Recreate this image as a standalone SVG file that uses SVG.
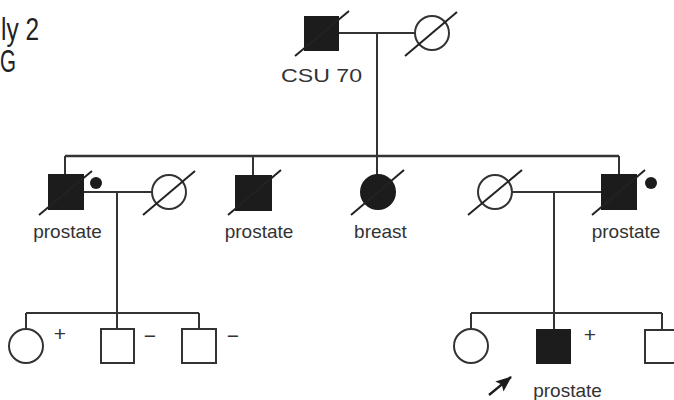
<svg xmlns="http://www.w3.org/2000/svg" width="674" height="400" viewBox="0 0 674 400">
<defs>
<style>
.ln{stroke:#333;stroke-width:2;fill:none}
.sib{stroke:#333;stroke-width:2.5;fill:none}
.sym{stroke:#333;stroke-width:2;fill:#fff}
.aff{stroke:#1c1c1c;stroke-width:2;fill:#1c1c1c}
.dec{stroke:#222;stroke-width:2}
.lbl{font-family:"Liberation Sans",Arial,sans-serif;font-size:19px;fill:#333}
.mk{font-family:"Liberation Sans",Arial,sans-serif;font-size:21px;fill:#333;text-anchor:middle}
.ttl{font-family:"Liberation Sans",Arial,sans-serif;font-size:31px;fill:#222}
</style>
<marker id="ah" viewBox="0 0 16 13" refX="15" refY="6.5" markerUnits="userSpaceOnUse" markerWidth="16" markerHeight="13" orient="auto">
<path d="M0,0 L16,6.5 L0,13 L3,6.5 z" fill="#1c1c1c"/>
</marker>
</defs>
<rect width="674" height="400" fill="#fff"/>
<g id="title">
<text class="ttl" x="1" y="40" textLength="38" lengthAdjust="spacingAndGlyphs">ly 2</text>
<text class="ttl" x="0" y="72" textLength="16" lengthAdjust="spacingAndGlyphs">G</text>
</g>
<g id="connectors">
<line class="ln" x1="338" y1="33" x2="415" y2="33"/>
<line class="ln" x1="377" y1="33" x2="377" y2="156"/>
<line class="sib" x1="65" y1="156" x2="619" y2="156"/>
<line class="ln" x1="65" y1="156" x2="65" y2="175"/>
<line class="ln" x1="253" y1="156" x2="253" y2="176"/>
<line class="ln" x1="377" y1="156" x2="377" y2="175"/>
<line class="ln" x1="619" y1="156" x2="619" y2="175"/>
<line class="ln" x1="83" y1="192" x2="152" y2="192"/>
<line class="ln" x1="117" y1="192" x2="117" y2="313"/>
<line class="ln" x1="512" y1="192" x2="602" y2="192"/>
<line class="ln" x1="554" y1="192" x2="554" y2="313"/>
<line class="ln" x1="26" y1="313" x2="199" y2="313"/>
<line class="ln" x1="26" y1="313" x2="26" y2="329"/>
<line class="ln" x1="117" y1="313" x2="117" y2="329"/>
<line class="ln" x1="199" y1="313" x2="199" y2="329"/>
<line class="ln" x1="471" y1="313" x2="662" y2="313"/>
<line class="ln" x1="471" y1="313" x2="471" y2="329"/>
<line class="ln" x1="554" y1="313" x2="554" y2="330"/>
<line class="ln" x1="662" y1="313" x2="662" y2="330"/>
</g>
<g id="I1">
<rect class="aff" x="305" y="17" width="33" height="33"/>
<line class="dec" x1="295" y1="56" x2="349" y2="11"/>
<text class="lbl" x="281" y="82" textLength="81" lengthAdjust="spacingAndGlyphs">CSU 70</text>
</g>
<g id="I2">
<circle class="sym" cx="432" cy="33" r="17"/>
<line class="dec" x1="405" y1="56" x2="457" y2="12"/>
</g>
<g id="II1">
<rect class="aff" x="49" y="175" width="34" height="34"/>
<line class="dec" x1="39" y1="215" x2="92" y2="171"/>
<circle cx="96" cy="183" r="6" fill="#1c1c1c"/>
<text class="lbl" x="67.5" y="238" text-anchor="middle">prostate</text>
</g>
<g id="II2">
<circle class="sym" cx="169" cy="192" r="17"/>
<line class="dec" x1="143" y1="215" x2="195" y2="171"/>
</g>
<g id="II3">
<rect class="aff" x="236" y="176" width="35" height="34"/>
<line class="dec" x1="228" y1="215" x2="281" y2="170"/>
<text class="lbl" x="259" y="238" text-anchor="middle">prostate</text>
</g>
<g id="II4">
<circle class="aff" cx="378" cy="192" r="17"/>
<line class="dec" x1="351" y1="215" x2="404" y2="170"/>
<text class="lbl" x="380.5" y="238" text-anchor="middle">breast</text>
</g>
<g id="II5">
<circle class="sym" cx="495" cy="192" r="17"/>
<line class="dec" x1="468" y1="215" x2="522" y2="170"/>
</g>
<g id="II6">
<rect class="aff" x="602" y="175" width="34" height="34"/>
<line class="dec" x1="592" y1="215" x2="645" y2="170"/>
<circle cx="651" cy="183" r="6" fill="#1c1c1c"/>
<text class="lbl" x="626" y="238" text-anchor="middle">prostate</text>
</g>
<g id="III1">
<circle class="sym" cx="26" cy="346" r="17"/>
<text class="mk" x="60" y="341">+</text>
</g>
<g id="III2">
<rect class="sym" x="101" y="329" width="33" height="34"/>
<text class="mk" x="150" y="343">−</text>
</g>
<g id="III3">
<rect class="sym" x="182" y="329" width="34" height="34"/>
<text class="mk" x="233" y="343">−</text>
</g>
<g id="III4">
<circle class="sym" cx="471" cy="346" r="17"/>
</g>
<g id="III5">
<rect class="aff" x="537" y="330" width="33" height="33"/>
<text class="mk" x="590" y="342">+</text>
<line x1="489" y1="395" x2="511" y2="377" stroke="#1c1c1c" stroke-width="2.4" marker-end="url(#ah)"/>
<text class="lbl" x="567.5" y="397" text-anchor="middle">prostate</text>
</g>
<g id="III6">
<rect class="sym" x="645" y="330" width="34" height="33"/>
</g>
</svg>
